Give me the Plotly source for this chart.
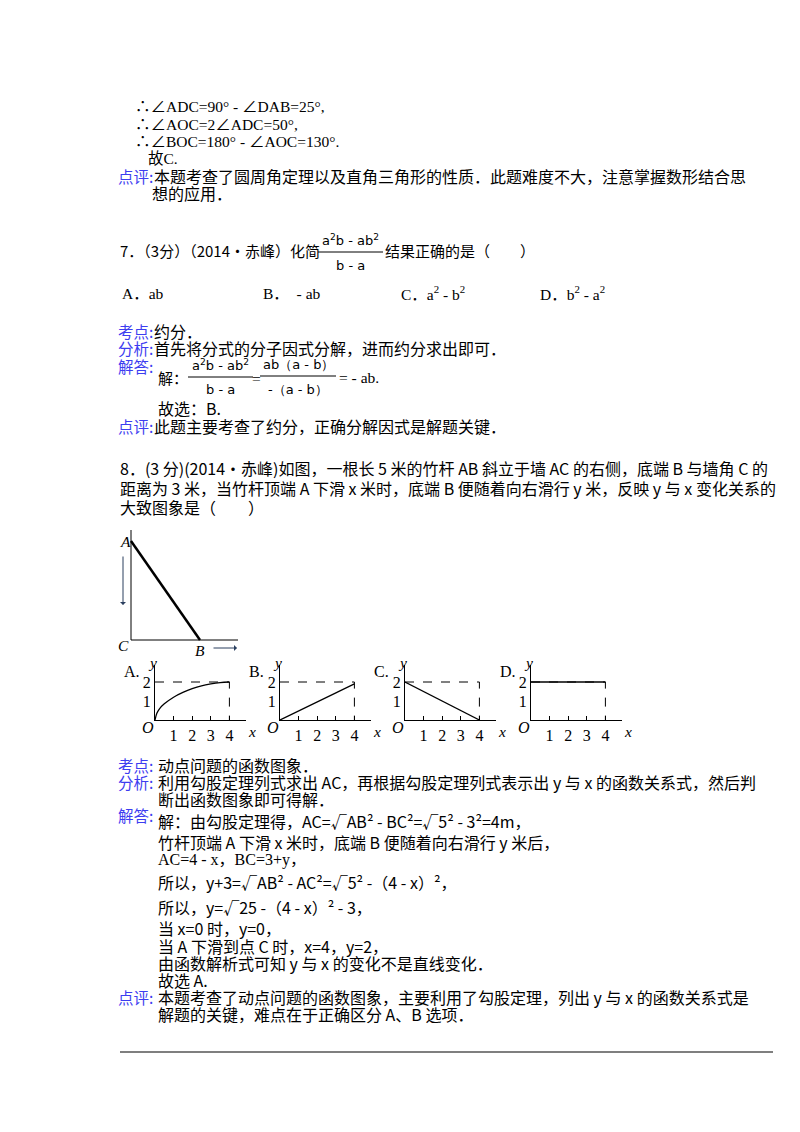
import plotly.graph_objects as go

W, H = 800, 1132
OFF = 8  # page margin of the browser

# option graphs (A..D)
opt_names = ["A.", "B.", "C.", "D."]
opt_x = [[0, 0.1, 0.25, 0.5, 1, 1.5, 2, 2.5, 3, 3.5, 4],
         [0, 4],
         [0, 4],
         [0, 4]]
opt_y = [[0, 0.35, 0.6, 0.85, 1.2, 1.45, 1.65, 1.8, 1.9, 1.97, 2],
         [0, 1.9],
         [2, 0],
         [2, 2]]
tick_vals = [1, 2, 3, 4]
ytick_vals = [1, 2]
# pixel position of each small graph's origin
origin_px = [155, 280, 405, 531]

SERIF = "Liberation Serif, Noto Sans CJK SC"
CJK = "Noto Sans CJK SC, Liberation Serif"
BLUE = "#3d3df0"
FS = 15.5
CS = 16

fig = go.Figure()
ann = []
shapes = []


def px(x):
    return (x - OFF) / W


def py(y):
    return 1 - (y - OFF) / H


def txt(x, y, s, size=FS, color="black", font=SERIF, anchor="left"):
    ann.append(dict(x=px(x), y=py(y), xref="paper", yref="paper", text=s,
                    showarrow=False, xanchor=anchor, yanchor="middle",
                    font=dict(size=size, color=color, family=font)))


def line(x0, y0, x1, y1, w=1, dash="solid", color="black"):
    shapes.append(dict(type="line", xref="paper", yref="paper",
                       x0=px(x0), y0=py(y0), x1=px(x1), y1=py(y1),
                       line=dict(width=w, color=color, dash=dash)))


def lab(y, s):
    txt(116, y, s + ":", size=15.5, color=BLUE, font=CJK)


# previous question tail
txt(133, 107, "∴∠ADC=90° - ∠DAB=25°,")
txt(133, 124, "∴∠AOC=2∠ADC=50°,")
txt(133, 142, "∴∠BOC=180° - ∠AOC=130°.")
txt(146, 158, "故C.")
lab(176, "点评")
txt(152, 176, "本题考查了圆周角定理以及直角三角形的性质．此题难度不大，注意掌握数形结合思", size=CS, font=CJK)
txt(150, 193, "想的应用．", size=CS, font=CJK)

# question 7
txt(118, 251, "7．（3分）（2014•赤峰）化简", size=15, font=CJK)
txt(350, 240, "a<sup>2</sup>b - ab<sup>2</sup>", size=13, font="DejaVu Sans", anchor="center")
line(318, 252, 383, 252)
txt(350, 265, "b - a", size=13, font="DejaVu Sans", anchor="center")
txt(383, 251, "结果正确的是（　　）", size=15, font=CJK)
txt(120, 293, "A．ab")
txt(261, 293, "B．  - ab")
txt(399, 293, "C．a<sup>2</sup> - b<sup>2</sup>")
txt(538, 293, "D．b<sup>2</sup> - a<sup>2</sup>")
lab(331, "考点")
txt(152, 331, "约分．", size=CS, font=CJK)
lab(348, "分析")
txt(152, 348, "首先将分式的分子因式分解，进而约分求出即可．", size=CS, font=CJK)
lab(366, "解答")
txt(156, 377, "解：", size=15, font=CJK)
txt(220, 365, "a<sup>2</sup>b - ab<sup>2</sup>", size=13, font="DejaVu Sans", anchor="center")
line(188, 377, 253, 377)
txt(220, 390, "b - a", size=13, font="DejaVu Sans", anchor="center")
txt(256, 378, "=", anchor="center")
txt(298, 364, "ab（a - b）", size=13, font="DejaVu Sans", anchor="center")
line(260, 376, 336, 376)
txt(298, 390, "-（a - b）", size=13, font="DejaVu Sans", anchor="center")
txt(337, 377, "= - ab.")
txt(156, 408, "故选：B.", size=CS, font=CJK)
lab(426, "点评")
txt(152, 426, "此题主要考查了约分，正确分解因式是解题关键．", size=CS, font=CJK)

# question 8
txt(118, 468, "8．(3 分)(2014•赤峰)如图，一根长 5 米的竹杆 AB 斜立于墙 AC 的右侧，底端 B 与墙角 C 的", size=CS, font=CJK)
txt(118, 488, "距离为 3 米，当竹杆顶端 A 下滑 x 米时，底端 B 便随着向右滑行 y 米，反映 y 与 x 变化关系的", size=CS, font=CJK)
txt(118, 507, "大致图象是（　　）", size=CS, font=CJK)

# wall / rod diagram
line(131, 530, 131, 640)
line(131, 640, 238, 640)
line(131, 541, 200, 640, w=2.5)
ann.append(dict(x=px(123), y=py(605), ax=0, ay=-50, xref="paper", yref="paper",
                axref="pixel", ayref="pixel", text="", showarrow=True, arrowhead=1, arrowwidth=1))
ann.append(dict(x=px(237), y=py(648), ax=-25, ay=0, xref="paper", yref="paper",
                axref="pixel", ayref="pixel", text="", showarrow=True, arrowhead=1, arrowwidth=1))
txt(125, 541, "<i>A</i>", anchor="center")
txt(124, 645, "<i>C</i>", anchor="center")
txt(200, 650, "<i>B</i>", anchor="center")

# small option graphs
UX = 18.6
UY = 19.0
XR = [0, 4.9]
YR = [0, 2.9]
for i in range(4):
    k = "" if i == 0 else str(i + 1)
    x0 = origin_px[i]
    x1 = x0 + UX * XR[1]
    y0 = 720
    y1 = y0 - UY * YR[1]
    fig.add_trace(go.Scatter(x=opt_x[i], y=opt_y[i], mode="lines", xaxis="x" + k, yaxis="y" + k,
                             line=dict(color="black", width=1.3, shape="spline"), showlegend=False))
    # dashed guides
    fig.add_trace(go.Scatter(x=[0, 4, 4], y=[2, 2, 0], mode="lines", xaxis="x" + k, yaxis="y" + k,
                             line=dict(color="black", width=1, dash="dash"), showlegend=False))
    fig.layout["xaxis" + k] = dict(domain=[px(x0), px(x1)], range=XR, anchor="y" + k,
                                   showline=True, linecolor="black", linewidth=1.2,
                                   tickvals=tick_vals, ticks="inside", ticklen=4, tickcolor="black",
                                   showgrid=False, zeroline=False, ticklabelstandoff=1,
                                   tickfont=dict(size=16, family=SERIF, color="black"))
    fig.layout["yaxis" + k] = dict(domain=[py(y0), py(y1)], range=YR, anchor="x" + k,
                                   showline=True, linecolor="black", linewidth=1.2,
                                   tickvals=ytick_vals, ticks="", showgrid=False, zeroline=False,
                                   tickfont=dict(size=16, family=SERIF, color="black"))
    # arrow heads
    ann.append(dict(x=XR[1] + 0.15, y=0, ax=-12, ay=0, xref="x" + k, yref="y" + k,
                    axref="pixel", ayref="pixel", text="", showarrow=True, arrowhead=1, arrowwidth=1.2))
    ann.append(dict(x=0, y=YR[1] + 0.15, ax=0, ay=12, xref="x" + k, yref="y" + k,
                    axref="pixel", ayref="pixel", text="", showarrow=True, arrowhead=1, arrowwidth=1.2))
    txt(x0 - 7, 727, "<i>O</i>", size=16, anchor="center")
    txt(x1 + 6, 731, "<i>x</i>", anchor="center")
    txt(x0 - 3, 662, "<i>y</i>", anchor="center")
    txt(x0 - 33, 672, opt_names[i], size=16, anchor="left")

# analysis of question 8
lab(765, "考点")
txt(156, 765, "动点问题的函数图象．", size=CS, font=CJK)
lab(782, "分析")
txt(156, 782, "利用勾股定理列式求出 AC，再根据勾股定理列式表示出 y 与 x 的函数关系式，然后判", size=CS, font=CJK)
txt(156, 799, "断出函数图象即可得解．", size=CS, font=CJK)
lab(815, "解答")
txt(156, 821, "解：由勾股定理得，AC=√AB² - BC²=√5² - 3²=4m，", size=CS, font=CJK)
txt(156, 842, "竹杆顶端 A 下滑 x 米时，底端 B 便随着向右滑行 y 米后，", size=CS, font=CJK)
txt(156, 860, "AC=4 - x，BC=3+y，", size=16)
txt(156, 882, "所以，y+3=√AB² - AC²=√5² -（4 - x）²，", size=CS, font=CJK)
txt(156, 907, "所以，y=√25 -（4 - x）² - 3，", size=CS, font=CJK)
txt(156, 928, "当 x=0 时，y=0，", size=CS, font=CJK)
txt(156, 946, "当 A 下滑到点 C 时，x=4，y=2，", size=CS, font=CJK)
txt(156, 963, "由函数解析式可知 y 与 x 的变化不是直线变化．", size=CS, font=CJK)
txt(156, 980, "故选 A.", size=CS, font=CJK)
lab(997, "点评")
txt(156, 997, "本题考查了动点问题的函数图象，主要利用了勾股定理，列出 y 与 x 的函数关系式是", size=CS, font=CJK)
txt(156, 1014, "解题的关键，难点在于正确区分 A、B 选项．", size=CS, font=CJK)

line(120, 1052, 773, 1052, w=1.2)

fig.update_layout(width=W, height=H, margin=dict(l=0, r=0, t=0, b=0),
                  paper_bgcolor="white", plot_bgcolor="white",
                  annotations=ann, shapes=shapes)
fig.write_html("out.html")
